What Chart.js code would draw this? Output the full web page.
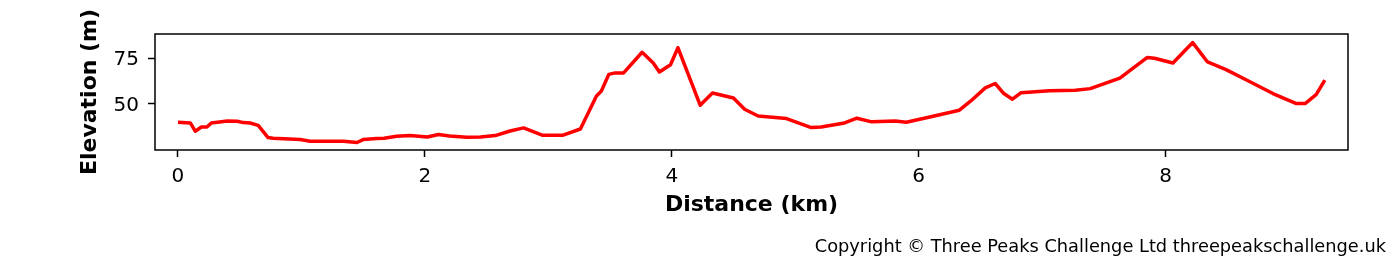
<!DOCTYPE html>
<html>
<head>
<meta charset="utf-8">
<script src="https://cdn.jsdelivr.net/npm/chart.js@4"></script>
<style>
  html, body { margin: 0; padding: 0; background: #fff; }
  #wrap { position: relative; width: 1400px; height: 259px; }
  #copy { position: absolute; right: 14px; top: 236px; font-family: "DejaVu Sans"; font-size: 17.8px; line-height: 20px; color: #000; white-space: nowrap; }
</style>
</head>
<body>
<div id="wrap">
  <canvas id="c" width="1400" height="259"></canvas>
  <div id="copy">Copyright © Three Peaks Challenge Ltd threepeakschallenge.uk</div>
</div>
<script>
const distanceKm = [0, 0.10, 0.14, 0.19, 0.235, 0.27, 0.40, 0.48, 0.53, 0.585, 0.65, 0.73, 0.77, 0.99, 1.07, 1.34, 1.45, 1.50, 1.61, 1.67, 1.77, 1.88, 2.02, 2.11, 2.20, 2.34, 2.45, 2.57, 2.69, 2.80, 2.95, 3.12, 3.26, 3.39, 3.43, 3.49, 3.54, 3.61, 3.76, 3.85, 3.90, 3.99, 4.05, 4.23, 4.33, 4.50, 4.59, 4.70, 4.93, 5.13, 5.21, 5.40, 5.50, 5.62, 5.81, 5.90, 6.09, 6.33, 6.42, 6.54, 6.62, 6.69, 6.76, 6.83, 7.06, 7.27, 7.39, 7.63, 7.85, 7.91, 8.06, 8.22, 8.34, 8.49, 8.66, 8.87, 9.06, 9.13, 9.22, 9.29];
const elevationM = [40.0, 39.6, 35.1, 37.4, 37.4, 39.6, 40.7, 40.5, 39.8, 39.6, 38.3, 31.6, 31.2, 30.5, 29.6, 29.6, 28.9, 30.5, 31.1, 31.2, 32.3, 32.7, 31.9, 33.3, 32.5, 31.8, 31.9, 32.7, 35.2, 36.9, 32.9, 32.9, 36.3, 54.4, 57.1, 66.2, 67.0, 67.0, 78.3, 72.4, 67.5, 71.5, 80.8, 49.3, 56.0, 53.3, 47.1, 43.4, 42.0, 37.1, 37.4, 39.6, 42.2, 40.2, 40.7, 40.0, 42.9, 46.6, 51.5, 58.8, 61.2, 55.7, 52.6, 56.2, 57.3, 57.5, 58.4, 64.2, 75.4, 75.0, 72.4, 83.6, 73.0, 68.8, 63.0, 55.7, 50.2, 50.2, 55.1, 63.0];
const xTicks = [0, 2, 4, 6, 8];
const yTicks = [50, 75];

const points = distanceKm.map((d, i) => ({ x: d, y: elevationM[i] }));

const framePlugin = {
  id: 'frame',
  afterDraw(chart) {
    const a = chart.chartArea, ctx = chart.ctx;
    ctx.save();
    ctx.strokeStyle = '#000';
    ctx.lineWidth = 1.5;
    ctx.strokeRect(a.left, a.top, a.right - a.left, a.bottom - a.top);
    ctx.restore();
  }
};

const tickFont = { family: 'DejaVu Sans', size: 20 };
const titleFont = { family: 'DejaVu Sans', size: 22, weight: 'bold' };

new Chart(document.getElementById('c'), {
  type: 'line',
  data: {
    datasets: [{
      data: points,
      borderColor: '#ff0000',
      borderWidth: 3.5,
      pointRadius: 0,
      tension: 0,
      fill: false,
      borderJoinStyle: 'round'
    }]
  },
  plugins: [framePlugin],
  options: {
    responsive: false,
    animation: false,
    layout: { padding: { top: 34, right: 52, bottom: 0, left: 0 } },
    plugins: { legend: { display: false }, tooltip: { enabled: false } },
    scales: {
      x: {
        type: 'linear',
        min: -0.186, max: 9.478,
        afterBuildTicks: s => { s.ticks = xTicks.map(v => ({ value: v })); },
        afterFit: s => { s.height = 109; },
        ticks: { font: tickFont, color: '#000', padding: 8, maxRotation: 0 },
        grid: { display: true, drawOnChartArea: false, drawTicks: true, tickLength: 7, tickWidth: 1.5, tickColor: '#000' },
        border: { display: false },
        title: { display: true, text: 'Distance (km)', font: titleFont, color: '#000', padding: { top: 0, bottom: 41 } }
      },
      y: {
        min: 24.8, max: 88.3,
        afterBuildTicks: s => { s.ticks = yTicks.map(v => ({ value: v })); },
        afterFit: s => { s.width = 155; },
        ticks: { font: tickFont, color: '#000', padding: 9, labelOffset: 1.5 },
        grid: { display: true, drawOnChartArea: false, drawTicks: true, tickLength: 7, tickWidth: 1.5, tickColor: '#000' },
        border: { display: false },
        title: { display: true, text: 'Elevation (m)', font: titleFont, color: '#000', padding: { top: 77, bottom: 0 } }
      }
    }
  }
});
</script>
</body>
</html>
